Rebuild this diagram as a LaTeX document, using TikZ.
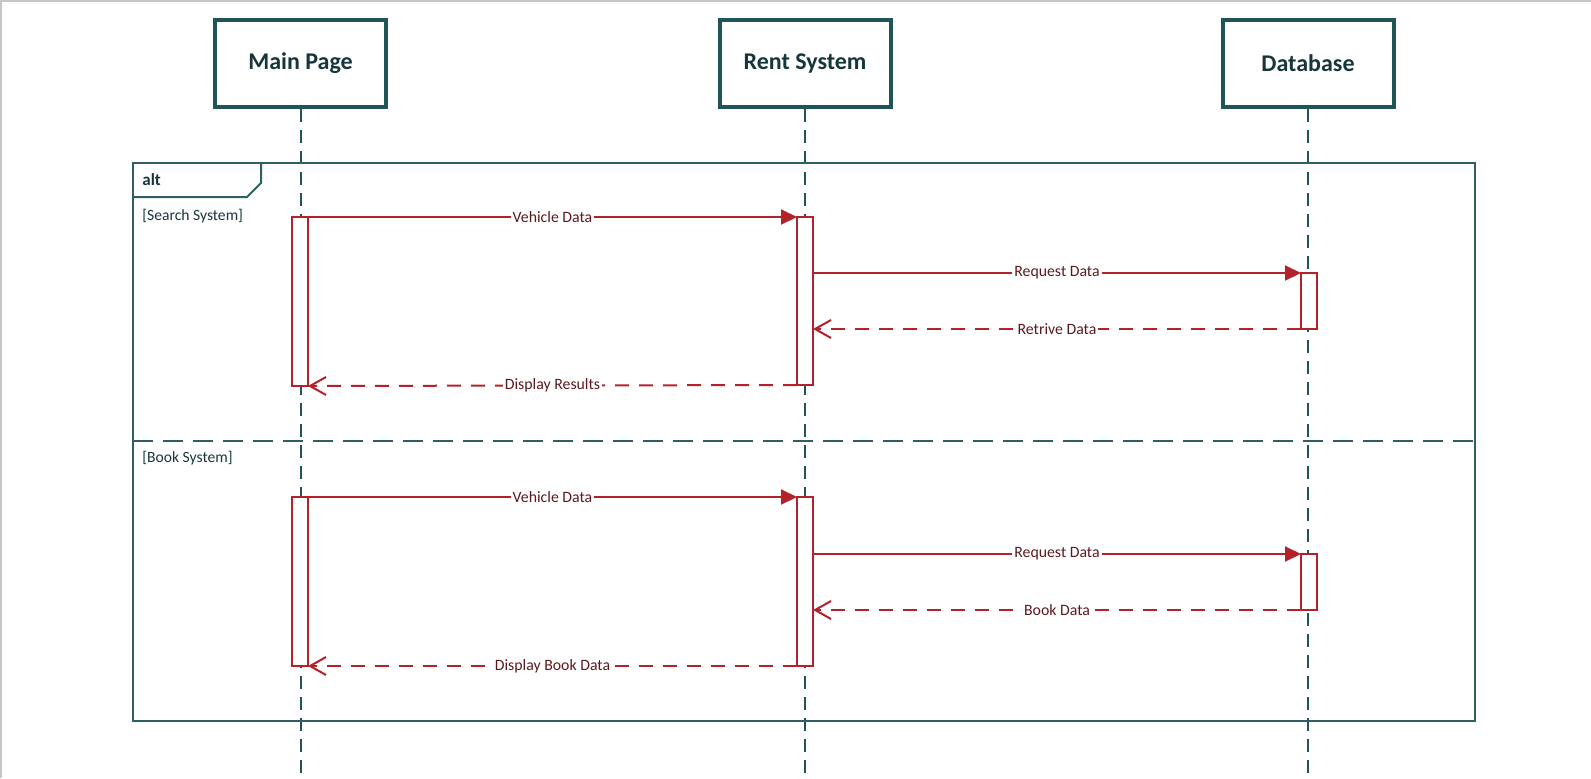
\documentclass[tikz,border=0pt]{standalone}
\usepackage{fontspec}
\setmainfont{Carlito}
\usepackage{xcolor}
\definecolor{Deep Teal}{HTML}{1F5559}
\definecolor{Frame Teal}{HTML}{2F5F63}
\definecolor{Ink Teal}{HTML}{17363B}
\definecolor{Fire Red}{HTML}{B3222A}
\definecolor{Wine}{HTML}{5C1A1E}
\colorlet{cTeal}{Deep Teal}
\colorlet{cRed}{Fire Red}
\usetikzlibrary{calc, positioning, arrows.meta}
\tikzset{
	head/.style={
		draw=cTeal,
		line width=2pt,
		minimum width=85.5pt,
		minimum height=43.5pt,
		inner sep=0pt,
		font=\fontsize{12}{14}\selectfont\bfseries,
		text=Ink Teal
	},
	lifeline/.style={
		draw=cTeal,
		line width=1pt,
		dash pattern=on 6.5pt off 4pt
	},
	bar/.style={
		draw=cRed,
		fill=white,
		line width=.8pt,
		minimum width=8pt,
		inner sep=0pt,
		outer sep=0pt
	},
	call/.style={
		draw=cRed,
		line width=1pt,
		-{Triangle[length=8pt,width=7.5pt]}
	},
	reply/.style={
		draw=cRed,
		line width=1pt,
		dash pattern=on 7pt off 5pt,
		-{Straight Barb[length=8pt,width=9pt,line width=1pt]}
	},
	msg/.style={
		fill=white,
		inner sep=1pt,
		text=Wine,
		font=\fontsize{7.9}{9.5}\selectfont
	},
	guard/.style={
		anchor=west,
		inner sep=0pt,
		text=Ink Teal,
		font=\fontsize{7.8}{9.5}\selectfont
	}
}

\begin{document}
\begin{tikzpicture}[x=.5pt, y=-.5pt]
	\useasboundingbox (0,0) rectangle (1591,778);
	\draw[black!22, line width=1pt] (1,778) -- (1,1) -- (1591,1);

	% lifeline heads
	\node[head] (main) at (300.5,63.5) {Main Page};
	\node[head] (rent) at (805,63.5) {Rent System};
	\node[head] (db) at (1308,63.5) {Database};

	\coordinate (mainEnd) at (main |- 0,778);
	\coordinate (rentEnd) at (rent |- 0,778);
	\coordinate (dbEnd) at (db |- 0,778);
	\draw[lifeline] (main) -- (mainEnd);
	\draw[lifeline] (rent) -- (rentEnd);
	\draw[lifeline] (db) -- (dbEnd);

	% alt frame
	\draw[Frame Teal, line width=1pt] (133,163) rectangle (1475,721);
	\draw[Frame Teal, line width=1pt] (133,197) -- (247,197) -- (261,183) -- (261,163);
	\draw[Frame Teal, line width=1pt, dash pattern=on 10pt off 5pt] (133,441) -- (1475,441);
	\node[guard, font=\fontsize{8.5}{10}\selectfont\bfseries] (alt) at (142,180) {alt};
	\node[guard] (g1) at (142,216) {[Search System]};
	\node[guard] (g2) at (142,458) {[Book System]};

	% activation bars
	\node[bar, minimum height=84.5pt] (m1) at (300,301.5) {};
	\node[bar, minimum height=84pt] (r1) at (805,301) {};
	\node[bar, minimum height=28pt] (d1) at (1309,301) {};
	\node[bar, minimum height=84.5pt] (m2) at (300,581.5) {};
	\node[bar, minimum height=84.5pt] (r2) at (805,581.5) {};
	\node[bar, minimum height=28pt] (d2) at (1309,582) {};

	% search system
	\draw[call] (m1.north east) to node[msg] {Vehicle Data} (r1.north west);
	\draw[call] (r1.east |- d1.north) to node[msg] {Request Data} (d1.north west);
	\draw[reply] (d1.south west) to node[msg] {Retrive Data} (r1.east |- d1.south);
	\draw[reply] (r1.south west) to node[msg] {Display Results} (m1.south east);

	% book system
	\draw[call] (m2.north east) to node[msg] {Vehicle Data} (r2.north west);
	\draw[call] (r2.east |- d2.north) to node[msg] {Request Data} (d2.north west);
	\draw[reply] (d2.south west) to node[msg] {Book Data} (r2.east |- d2.south);
	\draw[reply] (r2.south west) to node[msg] {Display Book Data} (m2.south east);
\end{tikzpicture}
\end{document}
